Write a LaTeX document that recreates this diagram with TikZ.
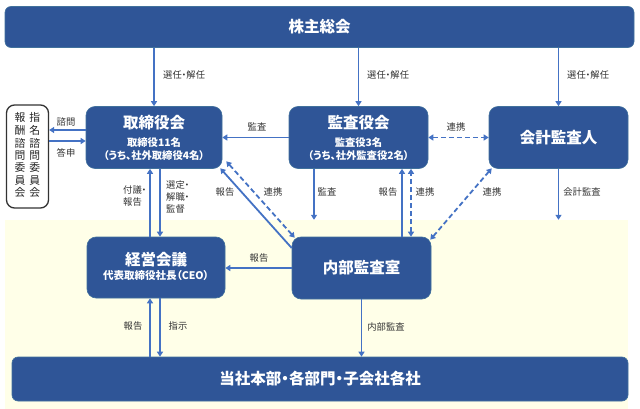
\documentclass[tikz,border=0pt]{standalone}
\usepackage{fontspec}
\setmainfont{Noto Sans CJK JP}[RawFeature=+palt]
\usetikzlibrary{arrows.meta,calc}
\definecolor{boxblue}{HTML}{2F5597}
\definecolor{boxedge}{HTML}{41719C}
\definecolor{arrowblue}{HTML}{4472C4}
\definecolor{execbg}{HTML}{FFFFE8}
\definecolor{labelgray}{HTML}{333333}
\newcommand{\ttlfont}{\fontsize{15.5}{18}\selectfont\bfseries}
\newcommand{\sbtfont}{\fontsize{10.3}{13}\selectfont\bfseries}
\begin{document}
\begin{tikzpicture}[x=1pt,y=-1pt,
  orgbox/.style={draw=boxedge,line width=0.6pt,fill=boxblue,rounded corners=9pt,text=white,inner sep=0pt,align=center},
  arr/.style={draw=arrowblue,line width=1.8pt,-{Triangle[length=5pt,width=6pt]}},
  darr/.style={draw=arrowblue,line width=1.8pt,{Triangle[length=5pt,width=6pt]}-{Triangle[length=5pt,width=6pt]},dash pattern=on 5pt off 3pt},
  lbl/.style={font=\fontsize{9.3}{12}\selectfont,text=labelgray,inner sep=0pt}]
\useasboundingbox (0,0) rectangle (640,409);
\fill[white] (0,0) rectangle (640,409);
% execution area
\node[fill=execbg,inner sep=0pt,minimum width=623pt,minimum height=189pt] (exec) at (316.5,314.5) {};

% boxes
\node[orgbox,rounded corners=6pt,minimum width=629pt,minimum height=41pt,font=\ttlfont] (kabu) at (319.5,27) {株主総会};
\node[orgbox,minimum width=136pt,minimum height=62pt,text width=136pt] (tori) at (154,137.5)
  {{\ttlfont 取締役会\par}\vspace{5pt}{\sbtfont 取締役11名\par（うち、社外取締役4名）\par}};
\node[orgbox,minimum width=139pt,minimum height=62pt,text width=139pt] (kansa) at (358.5,137.5)
  {{\ttlfont 監査役会\par}\vspace{5pt}{\sbtfont 監査役3名\par（うち、社外監査役2名）\par}};
\node[orgbox,minimum width=139pt,minimum height=62pt,font=\ttlfont] (kaikei) at (558.5,137.5) {会計監査人};
\node[draw=black!80,line width=1.3pt,fill=white,rounded corners=8pt,minimum width=42pt,minimum height=103pt,inner sep=0pt,text=black!85,font=\fontsize{10.8}{11.7}\selectfont] (iinkai) at (27.5,156.5)
  {\begin{tabular}{@{}c@{\hspace{4pt}}c@{}}報&指\\酬&名\\諮&諮\\問&問\\委&委\\員&員\\会&会\end{tabular}};
\node[orgbox,minimum width=138pt,minimum height=61pt,text width=138pt] (keiei) at (156,267.5)
  {{\ttlfont 経営会議\par}\vspace{1pt}{\fontsize{10.5}{13}\selectfont\bfseries 代表取締役社長（CEO）\par}\vspace{3pt}};
\node[orgbox,minimum width=139pt,minimum height=62pt,font=\ttlfont] (naibu) at (361.5,268) {内部監査室};
\node[orgbox,rounded corners=6pt,minimum width=616pt,minimum height=44pt,font=\ttlfont] (bottom) at (320,379) {当社本部・各部門・子会社各社};

% from shareholders
\draw[arr] (tori.north |- kabu.south) -- (tori.north);
\draw[arr] (kansa.north |- kabu.south) -- (kansa.north);
\draw[arr] (kaikei.north |- kabu.south) -- (kaikei.north);
\node[lbl,anchor=west] at (163,75) {選任・解任};
\node[lbl,anchor=west] at (367,75) {選任・解任};
\node[lbl,anchor=west] at (567,75) {選任・解任};

% committee
\coordinate (q1) at ($(tori.west)+(0,-7.5)$);
\coordinate (q2) at ($(tori.west)+(0,3.5)$);
\draw[arr] (q1) -- (q1 -| iinkai.east);
\draw[arr] (q2 -| iinkai.east) -- (q2);
\node[lbl] at (66,122) {諮問};
\node[lbl] at (66,153) {答申};

% board row
\draw[arr] (kansa.west) -- (tori.east);
\node[lbl] at (257,127) {監査};
\draw[darr] (kansa.east) -- (kaikei.west);
\node[lbl] at (456,127) {連携};

% board <-> management meeting
\coordinate (c1) at ($(keiei.north)+(-6,0)$);
\coordinate (c2) at ($(keiei.north)+(4,0)$);
\draw[arr] (c1) -- (c1 |- tori.south);
\draw[arr] (c2 |- tori.south) -- (c2);
\node[lbl,anchor=west,align=left] at (123,196) {付議・\\報告};
\node[lbl,anchor=west,align=left] at (166,197) {選定・\\解職・\\監督};

% internal audit <-> board
\draw[arr] ($(naibu.west)+(0,-20)$) -- ($(tori.south east)+(-2,-0.5)$);
\draw[darr] ($(naibu.north west)+(3,1)$) -- ($(tori.south east)+(4,-7.5)$);
\node[lbl] at (225,192) {報告};
\node[lbl] at (273,192) {連携};

% audit board downwards
\coordinate (d1) at ($(kansa.south)+(-44.5,0)$);
\draw[arr] (d1) -- (d1 |- exec.north);
\node[lbl] at (327,192) {監査};
\coordinate (e1) at ($(naibu.north)+(40.5,0)$);
\coordinate (e2) at ($(naibu.north)+(49.5,0)$);
\draw[arr] (e1) -- (e1 |- kansa.south);
\draw[darr] (e2) -- (e2 |- kansa.south);
\node[lbl] at (388,192) {報告};
\node[lbl] at (425,192) {連携};

% accounting auditor
\draw[darr] ($(naibu.north east)+(-1,3)$) -- ($(kaikei.south west)+(3,-0.5)$);
\node[lbl] at (492,192) {連携};
\draw[arr] (kaikei.south) -- (kaikei.south |- exec.north);
\node[lbl] at (582,192) {会計監査};

% lower part
\draw[arr] (naibu.west) -- (naibu.west -| keiei.east);
\node[lbl] at (259,258) {報告};
\draw[arr] (c1 |- bottom.north) -- (c1 |- keiei.south);
\draw[arr] (c2 |- keiei.south) -- (c2 |- bottom.north);
\node[lbl] at (133,326) {報告};
\node[lbl] at (178,326) {指示};
\draw[arr] (naibu.south) -- (naibu.south |- bottom.north);
\node[lbl] at (386,327) {内部監査};
\end{tikzpicture}
\end{document}
